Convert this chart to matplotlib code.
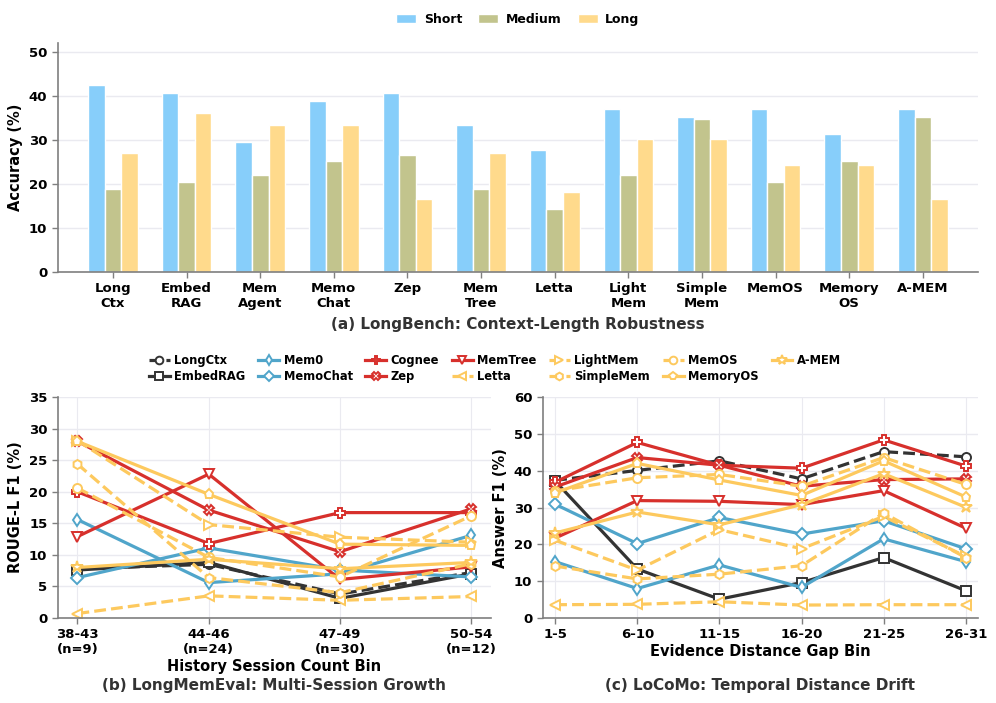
import numpy as np
import matplotlib
matplotlib.use("Agg")
from matplotlib import pyplot as plt

# ---- (a) LongBench bars
systems = ['Long\nCtx', 'Embed\nRAG', 'Mem\nAgent', 'Memo\nChat', 'Zep', 'Mem\nTree', 'Letta',
           'Light\nMem', 'Simple\nMem', 'MemOS', 'Memory\nOS', 'A-MEM']
short = [42.5, 40.6, 29.5, 38.8, 40.6, 33.3, 27.7, 37.0, 35.1, 37.0, 31.4, 37.0]
medium = [18.9, 20.5, 22.1, 25.3, 26.5, 18.9, 14.2, 22.1, 34.8, 20.5, 25.3, 35.2]
long_ = [27.1, 36.2, 33.3, 33.3, 16.6, 27.1, 18.1, 30.2, 30.2, 24.2, 24.2, 16.6]

# ---- (b) LongMemEval and (c) LoCoMo lines
bins_b = ['38-43\n(n=9)', '44-46\n(n=24)', '47-49\n(n=30)', '50-54\n(n=12)']
bins_c = ['1-5', '6-10', '11-15', '16-20', '21-25', '26-31']

names = ['LongCtx', 'EmbedRAG', 'Mem0', 'MemoChat', 'Cognee', 'Zep', 'MemTree',
         'Letta', 'LightMem', 'SimpleMem', 'MemOS', 'MemoryOS', 'A-MEM']

rouge = {
    'LongCtx':   [7.8, 8.5, 3.8, 7.2],
    'EmbedRAG':  [7.6, 8.8, 3.1, 7.0],
    'Mem0':      [15.6, 5.6, 7.0, 13.1],
    'MemoChat':  [6.4, 11.1, 7.6, 6.5],
    'Cognee':    [20.0, 11.8, 16.7, 16.7],
    'Zep':       [28.0, 17.1, 10.5, 17.3],
    'MemTree':   [12.9, 22.8, 6.1, 8.1],
    'Letta':     [0.7, 3.5, 2.8, 3.4],
    'LightMem':  [28.1, 14.8, 12.8, 12.0],
    'SimpleMem': [24.4, 6.4, 4.0, 8.6],
    'MemOS':     [20.6, 9.6, 6.5, 16.2],
    'MemoryOS':  [28.0, 19.6, 11.7, 11.5],
    'A-MEM':     [8.0, 9.3, 7.8, 8.8],
}

answer = {
    'LongCtx':   [37.4, 40.1, 42.7, 37.8, 45.2, 43.8],
    'EmbedRAG':  [37.2, 13.3, 5.1, 9.6, 16.4, 7.4],
    'Mem0':      [15.3, 8.0, 14.4, 8.3, 21.5, 15.3],
    'MemoChat':  [30.9, 20.2, 27.3, 22.8, 26.4, 18.8],
    'Cognee':    [36.9, 47.7, 41.5, 40.7, 48.4, 41.3],
    'Zep':       [35.6, 43.6, 41.5, 35.8, 37.6, 37.8],
    'MemTree':   [21.7, 31.9, 31.7, 30.8, 34.6, 24.4],
    'Letta':     [3.6, 3.7, 4.4, 3.5, 3.6, 3.6],
    'LightMem':  [21.1, 13.0, 24.0, 18.8, 27.6, 16.7],
    'SimpleMem': [14.1, 10.6, 11.9, 14.2, 28.5, 16.4],
    'MemOS':     [34.5, 38.1, 39.0, 35.8, 43.6, 36.3],
    'MemoryOS':  [34.0, 42.0, 37.5, 33.3, 42.7, 32.9],
    'A-MEM':     [23.1, 28.8, 25.3, 30.8, 39.2, 30.1],
}

black = '#333333'
blue = '#50A5CA'
red = '#D7302C'
yellow = '#FDC95E'
style = {
    'LongCtx':   (black, 'o', '--'),
    'EmbedRAG':  (black, 's', '-'),
    'Mem0':      (blue, 'd', '-'),
    'MemoChat':  (blue, 'D', '-'),
    'Cognee':    (red, 'P', '-'),
    'Zep':       (red, 'X', '-'),
    'MemTree':   (red, 'v', '-'),
    'Letta':     (yellow, '<', '--'),
    'LightMem':  (yellow, '>', '--'),
    'SimpleMem': (yellow, 'h', '--'),
    'MemOS':     (yellow, 'o', '--'),
    'MemoryOS':  (yellow, 'p', '-'),
    'A-MEM':     (yellow, '*', '-'),
}
legend_order = ['LongCtx', 'EmbedRAG', 'Mem0', 'MemoChat', 'Cognee', 'Zep', 'MemTree',
                'Letta', 'LightMem', 'SimpleMem', 'MemOS', 'MemoryOS', 'A-MEM']

plt.rcParams['font.family'] = 'DejaVu Sans'
plt.rcParams['font.weight'] = 'bold'
plt.rcParams['axes.labelweight'] = 'bold'

spine_col = '#7f7f7f'
grid_col = '#EAEAF0'
cap_col = '#333333'


def style_axes(ax, xgrid):
    for s in ['top', 'right']:
        ax.spines[s].set_visible(False)
    for s in ['left', 'bottom']:
        ax.spines[s].set_color(spine_col)
        ax.spines[s].set_linewidth(1.2)
    ax.tick_params(colors=spine_col, labelcolor='black', labelsize=9.5, length=4, width=1)
    ax.grid(axis='y', color=grid_col, linewidth=1)
    if xgrid:
        ax.grid(axis='x', color=grid_col, linewidth=0.8)
    ax.set_axisbelow(True)
    for lab in ax.get_xticklabels() + ax.get_yticklabels():
        lab.set_fontweight('bold')


def draw_lines(ax, xs, data):
    hs = {}
    for n in names:
        c, m, ls = style[n]
        ms = 9 if m == '*' else 6.5
        h, = ax.plot(xs, data[n], color=c, linestyle=ls, linewidth=2.3, marker=m, markersize=ms,
                     markerfacecolor='white', markeredgecolor=c, markeredgewidth=1.4, label=n)
        hs[n] = h
    return hs


fig = plt.figure(figsize=(9.96, 7.03), dpi=100)

# (a)
ax1 = fig.add_axes([0.058, 0.613, 0.924, 0.326])
x = np.arange(len(systems))
w = 0.225
ax1.bar(x - w, short, w, color='#87CEFA', edgecolor='white', linewidth=1, label='Short')
ax1.bar(x, medium, w, color='#C2C48D', edgecolor='white', linewidth=1, label='Medium')
ax1.bar(x + w, long_, w, color='#FFDA8C', edgecolor='white', linewidth=1, label='Long')
ax1.set_xlim(-0.75, len(systems) - 0.25)
ax1.set_ylim(0, 52)
ax1.set_yticks([0, 10, 20, 30, 40, 50])
ax1.set_xticks(x)
ax1.set_xticklabels(systems)
ax1.set_ylabel('Accuracy (%)', fontsize=10.5)
style_axes(ax1, False)
ax1.legend(loc='lower center', bbox_to_anchor=(0.5, 1.025), ncol=3, frameon=False,
           prop={'weight': 'bold', 'size': 9}, handlelength=1.6, handleheight=0.8,
           columnspacing=1.3, handletextpad=0.6)
ax1.text(0.5, -0.23, '(a) LongBench: Context-Length Robustness', transform=ax1.transAxes,
         ha='center', va='center', fontsize=11, fontweight='bold', color=cap_col)

# (b)
ax2 = fig.add_axes([0.058, 0.121, 0.435, 0.314])
xb = np.arange(len(bins_b))
handles = draw_lines(ax2, xb, rouge)
ax2.set_xlim(-0.15, len(bins_b) - 0.85)
ax2.set_ylim(0, 35)
ax2.set_xticks(xb)
ax2.set_xticklabels(bins_b)
ax2.set_yticks([0, 5, 10, 15, 20, 25, 30, 35])
ax2.set_ylabel('ROUGE-L F1 (%)', fontsize=10.5)
ax2.set_xlabel('History Session Count Bin', fontsize=10.5, labelpad=2)
style_axes(ax2, True)
ax2.text(0.5, -0.305, '(b) LongMemEval: Multi-Session Growth', transform=ax2.transAxes,
         ha='center', va='center', fontsize=11, fontweight='bold', color=cap_col)

# (c)
ax3 = fig.add_axes([0.545, 0.121, 0.437, 0.314])
xc = np.arange(len(bins_c))
draw_lines(ax3, xc, answer)
ax3.set_xlim(-0.15, len(bins_c) - 0.85)
ax3.set_ylim(0, 60)
ax3.set_xticks(xc)
ax3.set_xticklabels(bins_c)
ax3.set_yticks([0, 10, 20, 30, 40, 50, 60])
ax3.set_ylabel('Answer F1 (%)', fontsize=10.5)
ax3.set_xlabel('Evidence Distance Gap Bin', fontsize=10.5, labelpad=2)
style_axes(ax3, True)
ax3.text(0.5, -0.305, '(c) LoCoMo: Temporal Distance Drift', transform=ax3.transAxes,
         ha='center', va='center', fontsize=11, fontweight='bold', color=cap_col)

fig.legend([handles[n] for n in legend_order], legend_order, loc='center',
           bbox_to_anchor=(0.497, 0.476), ncol=7, frameon=False,
           prop={'weight': 'bold', 'size': 8.3}, handlelength=1.8, columnspacing=1.1,
           handletextpad=0.4, labelspacing=0.3, markerscale=0.85)

fig.savefig('out.png', dpi=100)
